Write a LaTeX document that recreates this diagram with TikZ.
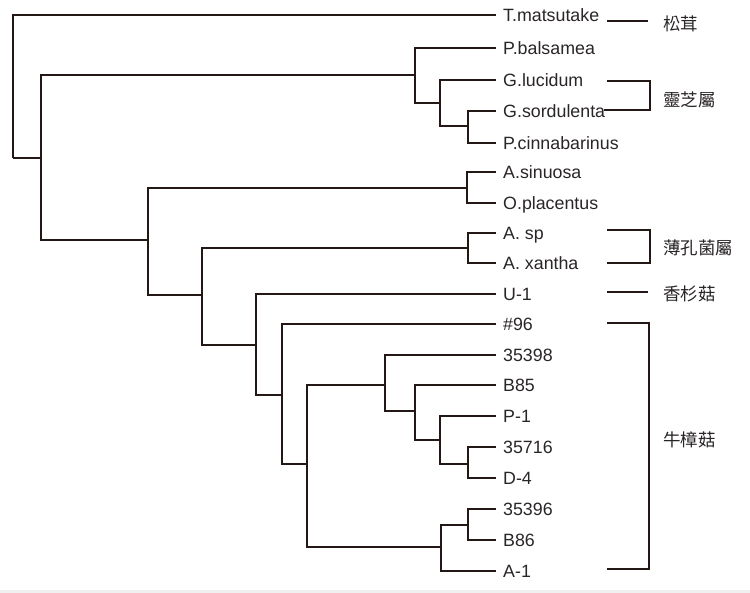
\documentclass[tikz,border=0pt]{standalone}
\usepackage{fontspec}
\setmainfont{Liberation Sans}
\newfontfamily\cjk{Noto Sans CJK TC}
\definecolor{lc}{HTML}{231815}
\definecolor{tc}{HTML}{2A2526}
\begin{document}
\begin{tikzpicture}[x=1pt,y=-1pt,
  edge/.style={draw=lc, line width=2pt},
  br/.style={draw=lc, line width=2pt},
  leaf/.style={anchor=base west, inner sep=0pt, font=\fontsize{17.8}{20}\selectfont, text=tc},
  grp/.style={anchor=west, inner sep=0pt, font=\cjk\fontsize{17.5}{20}\selectfont, text=tc}]
\useasboundingbox (0,0) rectangle (750,593);
\fill[white] (0,0) rectangle (750,593);
\fill[black!6] (0,590) rectangle (750,593);
% leaves
\foreach \n/\y/\t in {T/15/T.matsutake, Pb/48/P.balsamea, Gl/80/G.lucidum, Gs/111/G.sordulenta,
  Pc/143/P.cinnabarinus, As/172/A.sinuosa, Op/203/O.placentus, Asp/233/A. sp, Ax/263/A. xantha,
  Ua/294/U-1, nA/324/\#96, nB/355/35398, Bf/385/B85, Pa/416/P-1, nC/447/35716, Dd/478/D-4,
  nD/509/35396, Bs/540/B86, Aa/571/A-1}{
  \coordinate (l\n) at (496,\y);
  \node[leaf] (t\n) at (503,\y+6.3) {\t};
}
% internal nodes
\coordinate (root) at (13,158);
\coordinate (B) at (41,158);
\coordinate (C) at (415,75);
\coordinate (D) at (440,103);
\coordinate (E) at (468,126);
\coordinate (G) at (148,240);
\coordinate (F) at (467,188);
\coordinate (I) at (202,295);
\coordinate (H) at (468,248);
\coordinate (J) at (256,345);
\coordinate (K) at (282,395);
\coordinate (L) at (307,464);
\coordinate (M) at (385,385);
\coordinate (N) at (415,411);
\coordinate (O) at (440,440);
\coordinate (P) at (468,464);
\coordinate (Q) at (441,547);
\coordinate (R) at (468,525);
% edges
\draw[edge] (root) |- (lT);
\draw[edge] (root) |- (B);
\draw[edge] (B) |- (C);
\draw[edge] (B) |- (G);
\draw[edge] (C) |- (lPb);
\draw[edge] (C) |- (D);
\draw[edge] (D) |- (lGl);
\draw[edge] (D) |- (E);
\draw[edge] (E) |- (lGs);
\draw[edge] (E) |- (lPc);
\draw[edge] (G) |- (F);
\draw[edge] (G) |- (I);
\draw[edge] (F) |- (lAs);
\draw[edge] (F) |- (lOp);
\draw[edge] (I) |- (H);
\draw[edge] (I) |- (J);
\draw[edge] (H) |- (lAsp);
\draw[edge] (H) |- (lAx);
\draw[edge] (J) |- (lUa);
\draw[edge] (J) |- (K);
\draw[edge] (K) |- (lnA);
\draw[edge] (K) |- (L);
\draw[edge] (L) |- (M);
\draw[edge] (L) |- (Q);
\draw[edge] (M) |- (lnB);
\draw[edge] (M) |- (N);
\draw[edge] (N) |- (lBf);
\draw[edge] (N) |- (O);
\draw[edge] (O) |- (lPa);
\draw[edge] (O) |- (P);
\draw[edge] (P) |- (lnC);
\draw[edge] (P) |- (lDd);
\draw[edge] (Q) |- (R);
\draw[edge] (Q) |- (lAa);
\draw[edge] (R) |- (lnD);
\draw[edge] (R) |- (lBs);
% group brackets
\coordinate (b1a) at (607,21); \coordinate (b1b) at (648,21);
\draw[br] (b1a) -- (b1b);
\node[grp] (g1) at (663,24) {松茸};
\coordinate (b2a) at (607,81); \coordinate (b2k) at (650,110); \coordinate (b2b) at (604,110);
\draw[br] (b2a) -| (b2k) -- (b2b);
\node[grp] (g2) at (663,100) {靈芝屬};
\coordinate (b3a) at (607,230); \coordinate (b3k) at (650,263); \coordinate (b3b) at (607,263);
\draw[br] (b3a) -| (b3k) -- (b3b);
\node[grp] (g3) at (663,248) {薄孔菌屬};
\coordinate (b4a) at (607,292); \coordinate (b4b) at (648,292);
\draw[br] (b4a) -- (b4b);
\node[grp] (g4) at (663,294) {香杉菇};
\coordinate (b5a) at (607,323); \coordinate (b5k) at (649,569); \coordinate (b5b) at (607,569);
\draw[br] (b5a) -| (b5k) -- (b5b);
\node[grp] (g5) at (663,440) {牛樟菇};
\end{tikzpicture}
\end{document}
